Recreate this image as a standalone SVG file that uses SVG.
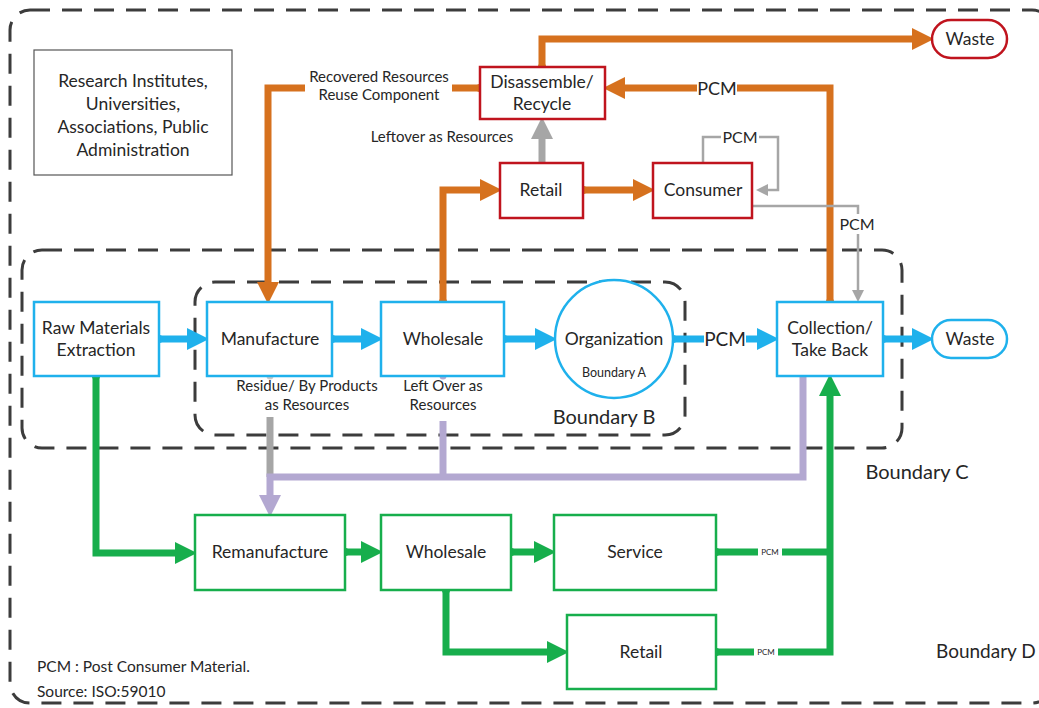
<svg xmlns="http://www.w3.org/2000/svg" width="1039" height="708" viewBox="0 0 1039 708">
<defs>
<style>
text{font-family:Lato,"Liberation Sans",sans-serif;fill:#262626;text-anchor:middle;}
.n{font-size:17.5px;}
.s{font-size:15px;}
.b{font-size:20px;}
.bnd{fill:none;stroke:#3c3c3c;stroke-width:3;stroke-dasharray:20 12;}
.blue{fill:#fff;stroke:#1FB1EC;stroke-width:2.5;}
.red{fill:#fff;stroke:#C0141E;stroke-width:2.5;}
.green{fill:#fff;stroke:#17AE4C;stroke-width:2.5;}
.plain{fill:#fff;stroke:#555;stroke-width:1.2;}
.cb{fill:none;stroke:#1FB1EC;stroke-width:7;}
.co{fill:none;stroke:#D6711E;stroke-width:7;}
.cg{fill:none;stroke:#17AE4C;stroke-width:7;}
.cl{fill:none;stroke:#B3A8D1;stroke-width:7;}
.cgr{fill:none;stroke:#A6A6A6;stroke-width:7;}
.cgt{fill:none;stroke:#A6A6A6;stroke-width:2.5;}
.bg{fill:#fff;}
</style>
<marker id="ab" markerUnits="userSpaceOnUse" markerWidth="22" markerHeight="22" refX="8" refY="11" orient="auto"><path d="M0,0 L22,11 L0,22 z" fill="#1FB1EC"/></marker>
<marker id="ao" markerUnits="userSpaceOnUse" markerWidth="22" markerHeight="22" refX="8" refY="11" orient="auto"><path d="M0,0 L22,11 L0,22 z" fill="#D6711E"/></marker>
<marker id="ag" markerUnits="userSpaceOnUse" markerWidth="22" markerHeight="22" refX="8" refY="11" orient="auto"><path d="M0,0 L22,11 L0,22 z" fill="#17AE4C"/></marker>
<marker id="al" markerUnits="userSpaceOnUse" markerWidth="22" markerHeight="22" refX="8" refY="11" orient="auto"><path d="M0,0 L22,11 L0,22 z" fill="#B3A8D1"/></marker>
<marker id="agr" markerUnits="userSpaceOnUse" markerWidth="22" markerHeight="22" refX="8" refY="11" orient="auto"><path d="M0,0 L22,11 L0,22 z" fill="#A6A6A6"/></marker>
<marker id="agt" markerUnits="userSpaceOnUse" markerWidth="12" markerHeight="12" refX="4" refY="6" orient="auto"><path d="M0,0 L12,6 L0,12 z" fill="#A6A6A6"/></marker>
</defs>
<rect width="1039" height="708" fill="#fff"/>

<g id="boundaries">
<rect class="bnd" x="10" y="10" width="1042" height="693" rx="20"/>
<rect class="bnd" x="22" y="250" width="880" height="198" rx="20"/>
<rect class="bnd" x="195" y="282" width="490" height="153" rx="20"/>
<text class="b" x="917" y="479">Boundary C</text>
<text class="b" x="936" y="658" style="text-anchor:start;font-size:19px">Boundary D</text>
<text class="b" x="604" y="424">Boundary B</text>
</g>

<g id="connectors">
<path class="cb" d="M159,339 H195" marker-end="url(#ab)"/>
<path class="cb" d="M332,339 H369" marker-end="url(#ab)"/>
<path class="cb" d="M504,339 H543" marker-end="url(#ab)"/>
<path class="cb" d="M673,339 H765" marker-end="url(#ab)"/>
<path class="cb" d="M883,339 H920" marker-end="url(#ab)"/>
<circle cx="159" cy="339" r="4" fill="#1FB1EC"/>
<circle cx="332" cy="339" r="4" fill="#1FB1EC"/>
<circle cx="504" cy="339" r="4" fill="#1FB1EC"/>
<circle cx="673" cy="339" r="4" fill="#1FB1EC"/>
<circle cx="883" cy="339" r="4" fill="#1FB1EC"/>
<rect class="bg" x="704" y="328" width="42" height="22"/>
<text x="725" y="346" style="font-size:19px">PCM</text>

<path class="co" d="M542,67 V39 H920" marker-end="url(#ao)"/>
<path class="co" d="M830,302 V88 H617" marker-end="url(#ao)"/>
<path class="co" d="M480,88 H268 V290" marker-end="url(#ao)"/>
<path class="co" d="M443,302 V190 H488" marker-end="url(#ao)"/>
<path class="co" d="M583,190 H641" marker-end="url(#ao)"/>
<circle cx="542" cy="67" r="4" fill="#D6711E"/>
<circle cx="480" cy="88" r="4" fill="#D6711E"/>
<circle cx="830" cy="302" r="4" fill="#D6711E"/>
<circle cx="443" cy="302" r="4" fill="#D6711E"/>
<circle cx="583" cy="190" r="4" fill="#D6711E"/>
<rect class="bg" x="697" y="77" width="40" height="22"/>
<text x="717" y="95" style="font-size:18px">PCM</text>
<rect class="bg" x="305" y="66" width="147" height="42"/>
<text class="s" x="379" y="82">Recovered Resources</text>
<text class="s" x="379" y="100">Reuse Component</text>
<text class="s" x="442" y="142">Leftover as Resources</text>

<path class="cgr" d="M542,163 V131" marker-end="url(#agr)"/>
<path class="cgt" d="M703,163 V137 H778 V190 H764" marker-end="url(#agt)"/>
<rect class="bg" x="721" y="128" width="38" height="18"/>
<text x="740" y="143" style="font-size:16px">PCM</text>
<path class="cgt" d="M752,206 H858 V294" marker-end="url(#agt)"/>
<rect class="bg" x="838" y="214" width="38" height="20"/>
<text x="857" y="230" style="font-size:16px">PCM</text>

<path class="cgr" d="M270,417 V477"/>
<path class="cl" d="M443,421 V477"/>
<path class="cl" d="M803,376 V477 H270 V503" marker-end="url(#al)"/>
<circle cx="270" cy="376" r="3.5" fill="#C8C8C8"/>
<circle cx="443" cy="376" r="3.5" fill="#B3A8D1"/>
<text class="s" x="307" y="391">Residue/ By Products</text>
<text class="s" x="307" y="410">as Resources</text>
<text class="s" x="443" y="391">Left Over as</text>
<text class="s" x="443" y="410">Resources</text>

<path class="cg" d="M96,376 V553 H183" marker-end="url(#ag)"/>
<path class="cg" d="M345,552 H369" marker-end="url(#ag)"/>
<path class="cg" d="M511,552 H542" marker-end="url(#ag)"/>
<path class="cg" d="M446,590 V652 H555" marker-end="url(#ag)"/>
<path class="cg" d="M716,552 H830"/>
<path class="cg" d="M716,652 H830 V388" marker-end="url(#ag)"/>
<circle cx="96" cy="376" r="4" fill="#17AE4C"/>
<circle cx="345" cy="552" r="4" fill="#17AE4C"/>
<circle cx="511" cy="552" r="4" fill="#17AE4C"/>
<circle cx="446" cy="590" r="4" fill="#17AE4C"/>
<circle cx="716" cy="552" r="4" fill="#17AE4C"/>
<circle cx="716" cy="652" r="4" fill="#17AE4C"/>
<rect class="bg" x="758" y="546" width="24" height="12"/>
<text x="770" y="555" style="font-size:8px">PCM</text>
<rect class="bg" x="754" y="646" width="24" height="12"/>
<text x="766" y="655" style="font-size:8px">PCM</text>
</g>

<g id="research">
<rect class="plain" x="34" y="50" width="198" height="125"/>
<text class="n" x="133" y="87">Research Institutes,</text>
<text class="n" x="133" y="110">Universities,</text>
<text class="n" x="133" y="133">Associations, Public</text>
<text class="n" x="133" y="156">Administration</text>
</g>

<g id="disassemble">
<rect class="red" x="480" y="67" width="125" height="52"/>
<text class="n" x="542" y="88">Disassemble/</text>
<text class="n" x="542" y="110">Recycle</text>
</g>
<g id="waste-top">
<rect class="red" x="932" y="20" width="75" height="38" rx="19"/>
<text class="n" x="970" y="45">Waste</text>
</g>
<g id="retail-top">
<rect class="red" x="500" y="163" width="83" height="55"/>
<text class="n" x="541" y="196">Retail</text>
</g>
<g id="consumer">
<rect class="red" x="653" y="163" width="99" height="55"/>
<text class="n" x="703" y="196">Consumer</text>
</g>

<g id="raw">
<rect class="blue" x="34" y="302" width="125" height="74"/>
<text class="n" x="96" y="334">Raw Materials</text>
<text class="n" x="96" y="356">Extraction</text>
</g>
<g id="manufacture">
<rect class="blue" x="207" y="302" width="125" height="74"/>
<text class="n" x="270" y="345">Manufacture</text>
</g>
<g id="wholesale">
<rect class="blue" x="381" y="302" width="123" height="74"/>
<text class="n" x="443" y="345">Wholesale</text>
</g>
<g id="organization">
<circle class="blue" cx="614" cy="339" r="59"/>
<text class="n" x="614" y="345">Organization</text>
<text x="614" y="377" style="font-size:12.5px">Boundary A</text>
</g>
<g id="collection">
<rect class="blue" x="777" y="302" width="106" height="74"/>
<text class="n" x="830" y="334">Collection/</text>
<text class="n" x="830" y="356">Take Back</text>
</g>
<g id="waste-mid">
<rect class="blue" x="932" y="320" width="75" height="38" rx="19"/>
<text class="n" x="970" y="345">Waste</text>
</g>

<g id="remanufacture">
<rect class="green" x="195" y="515" width="150" height="75"/>
<text class="n" x="270" y="558">Remanufacture</text>
</g>
<g id="wholesale-green">
<rect class="green" x="381" y="515" width="130" height="75"/>
<text class="n" x="446" y="558">Wholesale</text>
</g>
<g id="service">
<rect class="green" x="554" y="515" width="162" height="75"/>
<text class="n" x="635" y="558">Service</text>
</g>
<g id="retail-green">
<rect class="green" x="567" y="615" width="149" height="74"/>
<text class="n" x="641" y="658">Retail</text>
</g>

<g id="notes">
<text x="37" y="672" style="font-size:15.5px;text-anchor:start">PCM : Post Consumer Material.</text>
<text x="37" y="697" style="font-size:15.5px;text-anchor:start">Source: ISO:59010</text>
</g>
</svg>
